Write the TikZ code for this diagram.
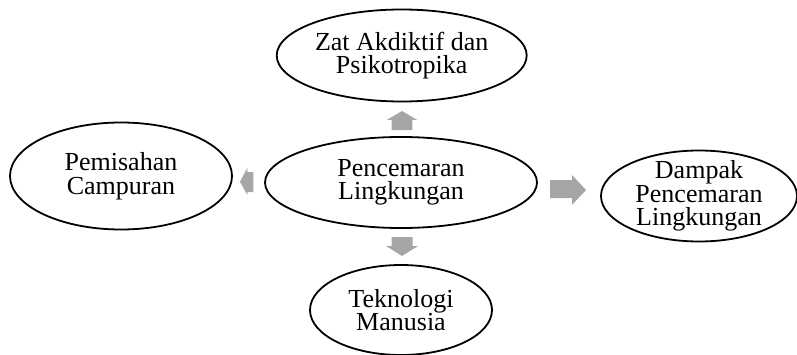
\documentclass[tikz,border=0pt]{standalone}
\usepackage{fontspec}
\setmainfont{Liberation Serif}
\usetikzlibrary{shapes.geometric}
\begin{document}
\begin{tikzpicture}[x=1pt,y=1pt,
  oval/.style={draw=black,line width=1.8pt,ellipse,inner sep=0pt},
  txt/.style={align=center,inner sep=0pt,font=\fontsize{26}{23.5}\selectfont},
  blockarrow/.style={fill=gray!70!white,draw=none}]
\useasboundingbox (0,0) rectangle (797,354);
% ellipses (y measured from top: Y = 354 - y)
\node[oval,minimum width=250pt,minimum height=92pt] (top) at (401.7,298.5) {};
\node[oval,minimum width=272pt,minimum height=91pt] (mid) at (401,171.5) {};
\node[oval,minimum width=222pt,minimum height=107pt] (left) at (121,178) {};
\node[oval,minimum width=196pt,minimum height=91pt] (right) at (699,158) {};
\node[oval,minimum width=182pt,minimum height=90pt] (bottom) at (401,44) {};
% texts
\node[txt] (ttop) at (top) {Zat Akdiktif dan\\Psikotropika};
\node[txt] (tmid) at (mid) {Pencemaran\\Lingkungan};
\node[txt] (tleft) at (left) {Pemisahan\\Campuran};
\node[txt] (tright) at (right) {Dampak\\Pencemaran\\Lingkungan};
\node[txt] (tbottom) at (bottom) {Teknologi\\Manusia};
% block arrows
\fill[blockarrow] (391.7,224) -- (391.7,234) -- (386.7,234) -- (402,243) -- (417.3,234) -- (412.3,234) -- (412.3,224) -- cycle;
\fill[blockarrow] (391.7,117) -- (412.7,117) -- (412.7,108) -- (418,108) -- (402,98) -- (386,108) -- (391.7,108) -- cycle;
\fill[blockarrow] (240,172.3) -- (247.3,186) -- (247.3,182) -- (253.3,182) -- (253.3,162) -- (247.3,162) -- (247.3,159) -- cycle;
\fill[blockarrow] (550,174) -- (572,174) -- (572,179) -- (586,164) -- (572,149) -- (572,156) -- (550,156) -- cycle;
\end{tikzpicture}
\end{document}
